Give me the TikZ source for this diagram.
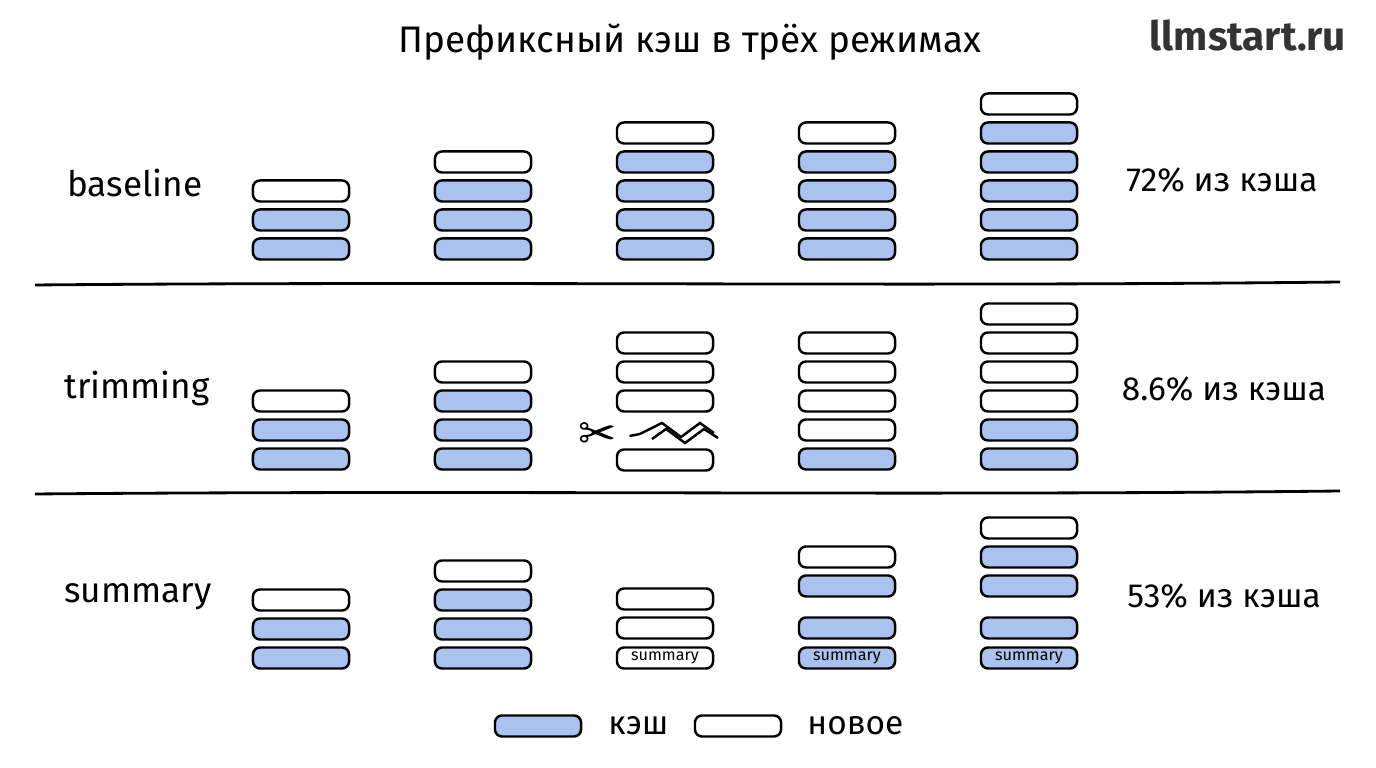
\documentclass[tikz,border=0pt]{standalone}
\usepackage{fontspec}
\setmainfont{Fira Sans}
\newfontfamily\symfont{DejaVu Sans}
\usetikzlibrary{decorations.pathmorphing}
\definecolor{cachebl}{HTML}{A9C2EE}

\begin{document}
\begin{tikzpicture}[x=0.01cm,y=-0.01cm,
  slot/.style={draw, line width=0.7pt, rounded corners=2pt, minimum width=0.96cm,
    minimum height=0.21cm, inner sep=0pt, font=\fontsize{4.6}{5}\selectfont},
  cache/.style={slot, fill=cachebl},
  new/.style={slot, fill=white},
  rowlabel/.style={anchor=west, font=\fontsize{10}{12}\selectfont},
  share/.style={font=\fontsize{9.5}{12}\selectfont}]
\useasboundingbox (0,0) rectangle (1376,768);

% title
\node[font=\fontsize{10.5}{12}\selectfont] (title) at (690,42) {Префиксный кэш в трёх режимах};
\node[font=\fontsize{11.5}{13}\selectfont\bfseries, text=black!80] (brand) at (1248,36) {llmstart.ru};

% baseline
\node[rowlabel] (lbase) at (55,183) {baseline};
\foreach \c/\x/\n in {1/301/2, 2/483/3, 3/665/4, 4/847/4, 5/1029/5} {
  \foreach \k in {1,...,\n}
    \node[cache] (b\c-\k) at (\x,{249-29*(\k-1)}) {};
  \node[new] (b\c-top) at (\x,{249-29*\n}) {};
}
\node[share] (sbase) at (1222,180) {72\% из кэша};

\draw[line width=0.8pt] (35,285) .. controls (500,281) and (900,287) .. (1340,282);

% trimming
\node[rowlabel] (ltrim) at (52,389) {trimming};
\foreach \c/\x/\n/\m in {1/301/2/1, 2/483/3/1, 4/847/1/4, 5/1029/2/4} {
  \foreach \k in {1,...,\n}
    \node[cache] (t\c-\k) at (\x,{459-29*(\k-1)}) {};
  \foreach \k in {1,...,\m}
    \node[new] (t\c-n\k) at (\x,{459-29*(\n+\k-1)}) {};
}
\node[new] (t3-1) at (665,460) {};
\foreach \k in {1,2,3}
  \node[new] (t3-n\k) at (665,{401-29*(\k-1)}) {};
\node[font=\symfont\fontsize{13}{13}\selectfont] (cut) at (598,436) {✂};
\coordinate (zz) at (640,434);
\draw[line width=0.7pt, dashed] (cut.east) -- (zz);
\draw[line width=0.7pt] (zz) -- (662,423) -- (681,437) -- (700,423) -- (714,433);
\draw[line width=0.7pt] (zz) ++(12,5) -- (666,429) -- (685,443) -- (704,429) -- (718,438);
\node[share] (strim) at (1224,389) {8.6\% из кэша};

\draw[line width=0.8pt] (35,494) .. controls (500,490) and (900,496) .. (1340,491);

% summary
\node[rowlabel] (lsum) at (52,597) {summary};
\foreach \c/\x/\n in {1/301/2, 2/483/3} {
  \foreach \k in {1,...,\n}
    \node[cache] (s\c-\k) at (\x,{658-29*(\k-1)}) {};
  \node[new] (s\c-top) at (\x,{658-29*\n}) {};
}
\node[new] (s3-1) at (665,658) {summary};
\node[new] (s3-2) at (665,628) {};
\node[new] (s3-3) at (665,599) {};
\node[cache] (s4-1) at (847,658) {summary};
\node[cache] (s4-2) at (847,628) {};
\node[cache] (s4-3) at (847,586) {};
\node[new] (s4-4) at (847,557) {};
\node[cache] (s5-1) at (1029,658) {summary};
\foreach \y [count=\k from 2] in {628,586,557}
  \node[cache] (s5-\k) at (1029,\y) {};
\node[new] (s5-5) at (1029,528) {};
\node[share] (ssum) at (1224,596) {53\% из кэша};

% legend
\node[cache, minimum width=0.86cm] (kcache) at (538,726) {};
\node[font=\fontsize{9.5}{12}\selectfont, anchor=west] (tcache) at (596,726) {кэш};
\node[new, minimum width=0.86cm] (knew) at (738,726) {};
\node[font=\fontsize{9.5}{12}\selectfont, anchor=west] (tnew) at (795,726) {новое};
\end{tikzpicture}
\end{document}
